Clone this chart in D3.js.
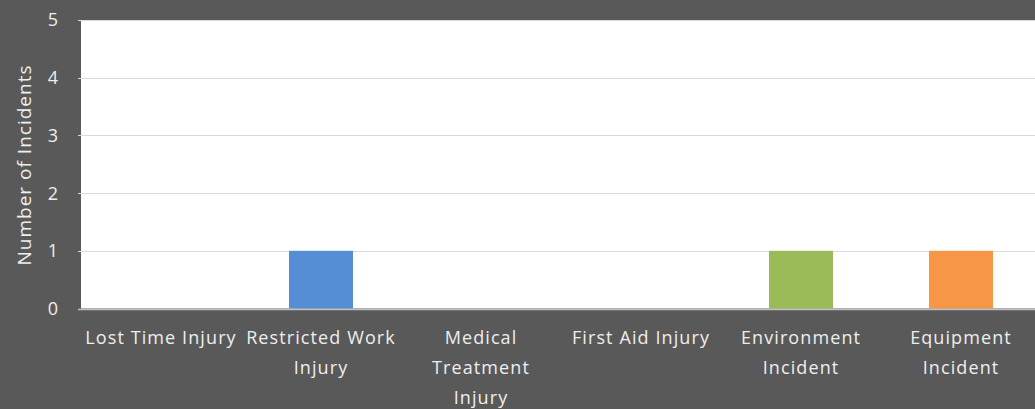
<!DOCTYPE html>
<html><head><meta charset="utf-8">
<script src="https://cdn.jsdelivr.net/npm/d3@7"></script>
<style>html,body{margin:0;padding:0;background:#595959;overflow:hidden}</style>
</head><body><svg id="c" width="1035" height="409"></svg>
<script>
const categories = ["Lost Time Injury", "Restricted Work\nInjury", "Medical\nTreatment\nInjury", "First Aid Injury", "Environment\nIncident", "Equipment\nIncident"];
const values = [0, 1, 0, 0, 1, 1];
const barColors = ["#558ED5", "#558ED5", "#558ED5", "#558ED5", "#9BBB59", "#F79646"];
const yTicks = [0, 1, 2, 3, 4, 5];
const yTitle = "Number of Incidents";

const svg = d3.select("#c");
const m = {left: 81, top: 20, right: -6, bottom: 101};
const W = 1035, H = 409;
const x = d3.scaleBand().domain(categories).range([m.left, W - m.right]).paddingInner(0.6).paddingOuter(0.3);
const y = d3.scaleLinear().domain([0, 5]).range([H - m.bottom + 0.5, m.top]);

svg.append("rect").attr("x", m.left).attr("y", m.top).attr("width", W - m.left - m.right).attr("height", y(0) - m.top).attr("fill", "#fff");

const grid = svg.append("g");
grid.selectAll("line").data(yTicks.filter(d => d > 0)).join("line")
  .attr("x1", m.left - 3).attr("x2", W).attr("y1", d => Math.round(y(d)) + 0.5).attr("y2", d => Math.round(y(d)) + 0.5)
  .attr("stroke", "#d9d9d9").attr("stroke-width", 1);

svg.selectAll("rect.bar").data(values).join("rect").attr("class", "bar")
  .attr("x", (d, i) => x(categories[i])).attr("width", x.bandwidth())
  .attr("y", d => y(d)).attr("height", d => y(0) - y(d))
  .attr("fill", (d, i) => barColors[i]);

svg.append("line").attr("x1", m.left - 3).attr("x2", W).attr("y1", Math.round(y(0)) + 0.5).attr("y2", Math.round(y(0)) + 0.5)
  .attr("stroke", "#bfbfbf").attr("stroke-width", 1.5);

const font = "'Open Sans', sans-serif";
svg.append("g").selectAll("text").data(yTicks).join("text")
  .attr("x", 58).attr("y", d => y(d)).attr("dy", "0.36em").attr("text-anchor", "end")
  .attr("fill", "#eeeeee").attr("font-family", font).attr("font-size", 18).text(d => d);

const xl = svg.append("g").selectAll("text").data(categories).join("text")
  .attr("text-anchor", "middle").attr("fill", "#eeeeee").attr("font-family", font).attr("font-size", 18)
  .attr("letter-spacing", "1.1px")
  .attr("transform", d => `translate(${x(d) + x.bandwidth() / 2},344)`);
xl.selectAll("tspan").data(d => d.split("\n")).join("tspan")
  .attr("x", 0).attr("dy", (d, i) => i ? 30 : 0).text(d => d);

svg.append("text").attr("transform", "translate(31,165) rotate(-90)").attr("text-anchor", "middle")
  .attr("fill", "#eeeeee").attr("font-family", font).attr("font-size", 19).attr("letter-spacing", "1px").text(yTitle);
</script></body></html>
